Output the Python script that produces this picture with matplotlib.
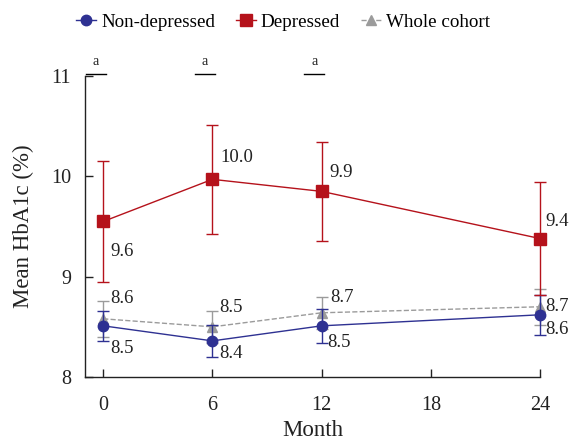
import numpy as np
import matplotlib
matplotlib.use('Agg')
import matplotlib.pyplot as plt
from matplotlib.lines import Line2D

plt.rcParams['font.family'] = ['Liberation Serif', 'DejaVu Serif']

# 数据
months = [0, 6, 12, 24]

dep_mean = [9.55, 9.97, 9.85, 9.38]
dep_err = [0.60, 0.54, 0.49, 0.56]
dep_labels = ['9.6', '10.0', '9.9', '9.4']

non_mean = [8.51, 8.36, 8.51, 8.62]
non_err = [0.15, 0.16, 0.17, 0.20]
non_labels = ['8.5', '8.4', '8.5', '8.6']

all_mean = [8.58, 8.50, 8.64, 8.70]
all_err = [0.18, 0.16, 0.16, 0.18]
all_labels = ['8.6', '8.5', '8.7', '8.7']

sig_months = [0, 6, 12]
sig_text = 'a'

# 颜色
c_dep = '#b5121b'
c_non = '#2e3192'
c_all = '#9b9b9b'
c_txt = '#222222'

fig = plt.figure(figsize=(5.72, 4.44), dpi=100)
ax = fig.add_axes([85/572, 1-377/444, 455/572, 301/444])

ax.errorbar(months, all_mean, yerr=all_err, color=c_all, linestyle='--', linewidth=1,
            marker='^', markersize=7, capsize=4.5, elinewidth=1, capthick=1,
            clip_on=False, zorder=3)
ax.errorbar(months, non_mean, yerr=non_err, color=c_non, linestyle='-', linewidth=1,
            marker='o', markersize=7.5, capsize=4.5, elinewidth=1, capthick=1,
            clip_on=False, zorder=4)
ax.errorbar(months, dep_mean, yerr=dep_err, color=c_dep, linestyle='-', linewidth=1,
            marker='s', markersize=8, capsize=4.5, elinewidth=1, capthick=1,
            clip_on=False, zorder=5)

# 数值标注 (偏移, 像素)
dep_off = [(7, -30), (8, 22), (8, 19), (5, 17)]
non_off = [(7, -23), (7, -13), (6, -17), (5, -15)]
all_off = [(7, 20), (7, 19), (9, 15), (5, 0)]
for means, labels, offs in [(dep_mean, dep_labels, dep_off),
                            (non_mean, non_labels, non_off),
                            (all_mean, all_labels, all_off)]:
    for m, v, lab, off in zip(months, means, labels, offs):
        ax.annotate(lab, (m, v), xytext=off, textcoords='offset pixels',
                    ha='left', va='center', fontsize=13.5, color=c_txt)

# 显著性标记
for m in sig_months:
    xc = m - 0.45
    ax.plot([xc - 0.5, xc + 0.6], [11.02, 11.02], color='black', linewidth=1, clip_on=False)
    ax.text(xc + 0.05, 11.08, sig_text, ha='center', va='bottom', fontsize=10, color=c_txt)

ax.set_xlim(-1, 24)
ax.set_ylim(8, 11)
ax.set_xticks([0, 6, 12, 18, 24])
ax.set_yticks([8, 9, 10, 11])
ax.tick_params(direction='in', length=6, width=1, labelsize=14.5, colors=c_txt)
ax.tick_params(axis='x', pad=14)
ax.tick_params(axis='y', pad=10)
ax.spines['top'].set_visible(False)
ax.spines['right'].set_visible(False)
for s in ['left', 'bottom']:
    ax.spines[s].set_linewidth(1)
    ax.spines[s].set_color(c_txt)

ax.set_xlabel('Month', fontsize=16.5, color=c_txt, labelpad=3)
ax.set_ylabel('Mean HbA1c (%)', fontsize=16.5, color=c_txt, labelpad=12)

handles = [
    Line2D([], [], color=c_non, linestyle='-', linewidth=1, marker='o', markersize=7.5),
    Line2D([], [], color=c_dep, linestyle='-', linewidth=1, marker='s', markersize=8),
    Line2D([], [], color=c_all, linestyle='--', linewidth=1, marker='^', markersize=7),
]
fig.legend(handles, ['Non-depressed', 'Depressed', 'Whole cohort'],
           loc='center', bbox_to_anchor=(283/572, 1-22/444), ncol=3, frameon=False,
           fontsize=13.7, handlelength=1.05, handletextpad=0.25, columnspacing=1.1)

fig.savefig('out.png', dpi=100)
